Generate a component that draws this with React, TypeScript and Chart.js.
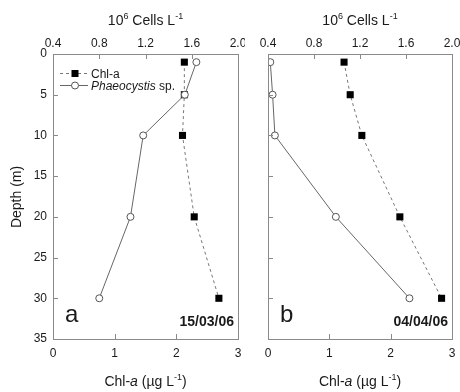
import React, { useEffect, useRef } from 'react';
import { Chart, registerables } from 'chart.js';
Chart.register(...registerables);

// ---- Data ----
const depths = [1, 5, 10, 20, 30];
const chlA_150306 = [2.13, 2.13, 2.1, 2.29, 2.69];
const phaeo_150306 = [1.64, 1.54, 1.18, 1.07, 0.8];
const chlA_040406 = [1.24, 1.34, 1.53, 2.15, 2.83];
const phaeo_040406 = [0.42, 0.44, 0.46, 0.99, 1.63];
const chlTicks = [0, 1, 2, 3];
const cellTicks = [0.4, 0.8, 1.2, 1.6, 2.0];
const depthTicks = [0, 5, 10, 15, 20, 25, 30, 35];
const panelLetters = ['a', 'b'];
const panelDates = ['15/03/06', '04/04/06'];

const FONT = '"Liberation Sans", Arial, sans-serif';
const AXIS_COLOR = '#8a8a8a';
const TEXT_COLOR = '#1a1a1a';

type Part = { t: string; font: string; dy?: number };

function drawRich(ctx: CanvasRenderingContext2D, parts: Part[], x0: number, y: number, align: 'center' | 'left' | 'right') {
  let total = 0;
  parts.forEach((p) => {
    ctx.font = p.font;
    total += ctx.measureText(p.t).width;
  });
  let x = align === 'center' ? x0 - total / 2 : align === 'right' ? x0 - total : x0;
  ctx.textAlign = 'left';
  ctx.textBaseline = 'alphabetic';
  parts.forEach((p) => {
    ctx.font = p.font;
    ctx.fillText(p.t, x, y + (p.dy || 0));
    x += ctx.measureText(p.t).width;
  });
}

function makeDeco(idx: number) {
  return {
    id: 'deco' + idx,
    afterDraw(chart: any) {
      const ctx: CanvasRenderingContext2D = chart.ctx;
      const ca = chart.chartArea;
      const sx = chart.scales.x;
      const sxt = chart.scales.xTop;
      const sy = chart.scales.y;
      ctx.save();
      // box
      ctx.strokeStyle = AXIS_COLOR;
      ctx.lineWidth = 1;
      ctx.strokeRect(Math.round(ca.left) + 0.5, Math.round(ca.top) + 0.5, Math.round(ca.right - ca.left), Math.round(ca.bottom - ca.top));
      // inward ticks
      const TL = 5;
      ctx.beginPath();
      chlTicks.forEach((v) => {
        const px = Math.round(sx.getPixelForValue(v)) + 0.5;
        ctx.moveTo(px, ca.bottom);
        ctx.lineTo(px, ca.bottom - TL);
      });
      cellTicks.forEach((v) => {
        const px = Math.round(sxt.getPixelForValue(v)) + 0.5;
        ctx.moveTo(px, ca.top);
        ctx.lineTo(px, ca.top + TL);
      });
      depthTicks.forEach((v) => {
        const py = Math.round(sy.getPixelForValue(v)) + 0.5;
        ctx.moveTo(ca.left, py);
        ctx.lineTo(ca.left + TL, py);
      });
      ctx.stroke();

      ctx.fillStyle = TEXT_COLOR;
      const cx = (ca.left + ca.right) / 2;
      const big = `14px ${FONT}`;
      const sup = `9px ${FONT}`;
      // top title
      drawRich(ctx, [
        { t: '10', font: big },
        { t: '6', font: sup, dy: -6 },
        { t: ' Cells L', font: big },
        { t: '-1', font: sup, dy: -6 },
      ], cx, 25, 'center');
      // bottom title
      drawRich(ctx, [
        { t: 'Chl-', font: big },
        { t: 'a', font: `italic 14px ${FONT}` },
        { t: ' (\u00b5g L', font: big },
        { t: '-1', font: sup, dy: -6 },
        { t: ')', font: big },
      ], cx, 386, 'center');
      // panel letter
      ctx.font = `24px ${FONT}`;
      ctx.textAlign = 'left';
      ctx.textBaseline = 'alphabetic';
      ctx.fillText(panelLetters[idx], ca.left + 12, 322);
      // date
      ctx.font = `bold 14px ${FONT}`;
      ctx.textAlign = 'right';
      ctx.fillText(panelDates[idx], ca.right - 4, 326);

      if (idx === 0) {
        // y title
        ctx.save();
        ctx.translate(21, 197);
        ctx.rotate(-Math.PI / 2);
        ctx.font = big;
        ctx.textAlign = 'center';
        ctx.textBaseline = 'alphabetic';
        ctx.fillText('Depth (m)', 0, 0);
        ctx.restore();
        // legend
        const lx0 = 60, lx1 = 88, lmid = 75;
        ctx.lineWidth = 1;
        // Chl-a
        ctx.strokeStyle = '#777';
        ctx.setLineDash([3, 3]);
        ctx.beginPath();
        ctx.moveTo(lx0, 73.5);
        ctx.lineTo(lx1, 73.5);
        ctx.stroke();
        ctx.setLineDash([]);
        ctx.fillStyle = '#000';
        ctx.fillRect(lmid - 3.5, 73.5 - 3.5, 7, 7);
        // Phaeocystis
        ctx.strokeStyle = '#666';
        ctx.beginPath();
        ctx.moveTo(lx0, 85.5);
        ctx.lineTo(lx1, 85.5);
        ctx.stroke();
        ctx.fillStyle = '#fff';
        ctx.strokeStyle = '#555';
        ctx.beginPath();
        ctx.arc(lmid, 85.5, 3.5, 0, Math.PI * 2);
        ctx.fill();
        ctx.stroke();
        ctx.fillStyle = TEXT_COLOR;
        drawRich(ctx, [{ t: 'Chl-a', font: `12px ${FONT}` }], 91, 78, 'left');
        drawRich(ctx, [
          { t: 'Phaeocystis', font: `italic 12px ${FONT}` },
          { t: ' sp.', font: `12px ${FONT}` },
        ], 91, 90, 'left');
      }
      ctx.restore();
    },
  };
}

function buildConfig(idx: number, chl: number[], phaeo: number[], leftWidth: number, rightPad: number, showYLabels: boolean): any {
  const tickFont = { family: FONT, size: 12 };
  const fixH = (h: number) => (s: any) => {
    s.height = h;
    s.paddingLeft = 0;
    s.paddingRight = 0;
  };
  return {
    type: 'scatter',
    data: {
      datasets: [
        {
          label: 'Phaeocystis sp.',
          data: depths.map((d, i) => ({ x: phaeo[i], y: d })),
          xAxisID: 'xTop',
          yAxisID: 'y',
          showLine: true,
          borderColor: '#666',
          borderWidth: 1,
          pointStyle: 'circle',
          pointRadius: 3.5,
          pointBackgroundColor: '#fff',
          pointBorderColor: '#555',
          pointBorderWidth: 1,
          order: 0,
        },
        {
          label: 'Chl-a',
          data: depths.map((d, i) => ({ x: chl[i], y: d })),
          xAxisID: 'x',
          yAxisID: 'y',
          showLine: true,
          borderColor: '#777',
          borderDash: [3, 3],
          borderWidth: 1,
          pointStyle: 'rect',
          pointRadius: 5,
          pointBackgroundColor: '#000',
          pointBorderColor: '#000',
          pointBorderWidth: 0,
          order: 1,
        },
      ],
    },
    options: {
      responsive: false,
      animation: false,
      layout: { padding: { left: 0, right: rightPad, top: 0, bottom: 0 } },
      plugins: { legend: { display: false }, tooltip: { enabled: false } },
      scales: {
        x: {
          type: 'linear',
          position: 'bottom',
          min: 0,
          max: 3,
          afterBuildTicks: (s: any) => { s.ticks = chlTicks.map((v) => ({ value: v })); },
          afterFit: fixH(53),
          grid: { display: false, drawTicks: false },
          border: { display: false },
          ticks: { font: tickFont, color: TEXT_COLOR, padding: 7, callback: (v: any) => String(v), maxRotation: 0, autoSkip: false },
        },
        xTop: {
          type: 'linear',
          position: 'top',
          min: 0.4,
          max: 2.0,
          afterBuildTicks: (s: any) => { s.ticks = cellTicks.map((v) => ({ value: v })); },
          afterFit: fixH(54),
          grid: { display: false, drawTicks: false },
          border: { display: false },
          ticks: { font: tickFont, color: TEXT_COLOR, padding: 3, callback: (v: any) => Number(v).toFixed(1), maxRotation: 0, autoSkip: false },
        },
        y: {
          type: 'linear',
          position: 'left',
          reverse: true,
          min: 0,
          max: 35,
          afterBuildTicks: (s: any) => { s.ticks = depthTicks.map((v) => ({ value: v })); },
          afterFit: (s: any) => {
            s.width = leftWidth;
            s.paddingTop = 0;
            s.paddingBottom = 0;
          },
          grid: { display: false, drawTicks: false },
          border: { display: false },
          ticks: { display: showYLabels, font: tickFont, color: TEXT_COLOR, padding: 6, callback: (v: any) => String(v), autoSkip: false },
        },
      },
    },
    plugins: [makeDeco(idx)],
  };
}

export default function App() {
  const ref1 = useRef<HTMLCanvasElement>(null);
  const ref2 = useRef<HTMLCanvasElement>(null);
  useEffect(() => {
    const c1 = new Chart(ref1.current as HTMLCanvasElement, buildConfig(0, chlA_150306, phaeo_150306, 53, 7, true));
    const c2 = new Chart(ref2.current as HTMLCanvasElement, buildConfig(1, chlA_040406, phaeo_040406, 23, 8, false));
    return () => {
      c1.destroy();
      c2.destroy();
    };
  }, []);
  return (
    <div style={{ position: 'fixed', left: 0, top: 0, width: 460, height: 392, background: '#fff' }}>
      <canvas ref={ref1} width={245} height={392} style={{ position: 'absolute', left: 0, top: 0, width: 245, height: 392 }} />
      <canvas ref={ref2} width={215} height={392} style={{ position: 'absolute', left: 245, top: 0, width: 215, height: 392 }} />
    </div>
  );
}
